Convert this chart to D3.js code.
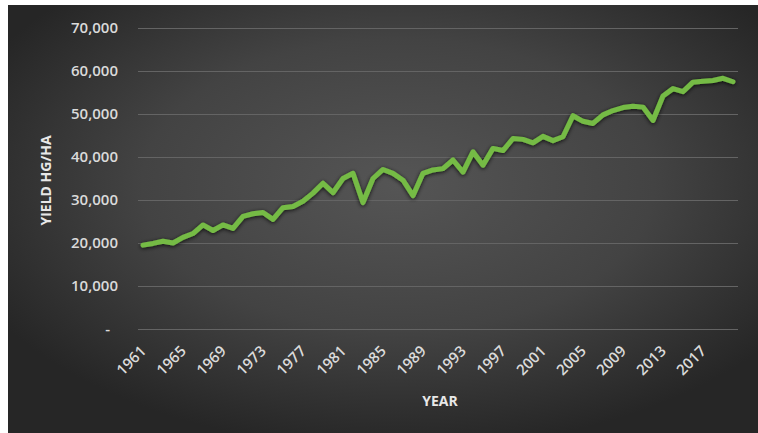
<!DOCTYPE html>
<html>
<head>
<meta charset="utf-8">
<script src="https://cdn.jsdelivr.net/npm/d3@7/dist/d3.min.js"></script>
<style>
  html, body { margin: 0; padding: 0; background: #ffffff; }
  svg { display: block; }
  text { font-family: "Open Sans", "DejaVu Sans", sans-serif; }
</style>
</head>
<body>
<svg id="chart" width="758" height="433"></svg>
<script>
// Yield (hg/ha) by year, 1961–2020
const years = d3.range(1961, 2021);
const yieldValues = [
  19500, 19900, 20400, 20000, 21300, 22200, 24200, 22900, 24200, 23400,
  26200, 26800, 27100, 25500, 28200, 28500, 29700, 31600, 33900, 31700,
  35000, 36200, 29400, 35000, 37100, 36200, 34600, 31000, 36200, 37000,
  37300, 39300, 36500, 41200, 38100, 42000, 41500, 44300, 44100, 43300,
  44800, 43800, 44700, 49600, 48300, 47800, 49800, 50800, 51500, 51800,
  51600, 48500, 54200, 55900, 55200, 57400, 57600, 57800, 58300, 57500
];
const yTicks = [0, 10000, 20000, 30000, 40000, 50000, 60000, 70000];
const xTickYears = d3.range(1961, 2021, 4);
const yTitle = "YIELD HG/HA";
const xTitle = "YEAR";

const svg = d3.select("#chart");
const W = 758, H = 433;
const frame = { left: 8, top: 5 };
const plot = { left: 138, right: 738, top: 28, bottom: 329 };

const defs = svg.append("defs");
const bg = defs.append("radialGradient")
  .attr("id", "bgGrad")
  .attr("cx", "52%").attr("cy", "42%").attr("r", "62%");
bg.append("stop").attr("offset", "0%").attr("stop-color", "#555555");
bg.append("stop").attr("offset", "55%").attr("stop-color", "#434343");
bg.append("stop").attr("offset", "100%").attr("stop-color", "#262626");

const shadow = defs.append("filter").attr("id", "lineShadow")
  .attr("x", "-10%").attr("y", "-10%").attr("width", "120%").attr("height", "130%");
shadow.append("feGaussianBlur").attr("in", "SourceAlpha").attr("stdDeviation", 2).attr("result", "b");
shadow.append("feOffset").attr("in", "b").attr("dx", 0).attr("dy", 1).attr("result", "o");
shadow.append("feComponentTransfer").attr("in", "o").attr("result", "s")
  .append("feFuncA").attr("type", "linear").attr("slope", 0.8);
const merge = shadow.append("feMerge");
merge.append("feMergeNode").attr("in", "s");
merge.append("feMergeNode").attr("in", "SourceGraphic");

// chart background
svg.append("rect")
  .attr("x", frame.left).attr("y", frame.top)
  .attr("width", W - frame.left).attr("height", H - frame.top)
  .attr("fill", "url(#bgGrad)");

const x = d3.scaleBand().domain(years).range([plot.left, plot.right]).padding(0);
const xc = d => x(d) + x.bandwidth() / 2;
const y = d3.scaleLinear().domain([0, 70000]).range([plot.bottom, plot.top]);

// horizontal gridlines
svg.append("g").selectAll("line")
  .data(yTicks)
  .join("line")
  .attr("x1", plot.left).attr("x2", plot.right)
  .attr("y1", d => Math.round(y(d)) + 0.5).attr("y2", d => Math.round(y(d)) + 0.5)
  .attr("stroke", "#646464").attr("stroke-width", 1);

// y axis labels
const yAxis = d3.axisLeft(y)
  .tickValues(yTicks)
  .tickSize(0)
  .tickPadding(20)
  .tickFormat(d => d === 0 ? "-" : d3.format(",")(d));
const gy = svg.append("g").attr("transform", `translate(${plot.left},0)`).call(yAxis);
gy.select(".domain").remove();
gy.selectAll("text")
  .attr("fill", "#dadada")
  .style("font-size", "15px")
  .style("font-weight", "600")
  .attr("dx", d => d === 0 ? "-8px" : 0);

// x axis labels
const xAxis = d3.axisBottom(x)
  .tickValues(xTickYears)
  .tickSize(0)
  .tickPadding(0);
const gx = svg.append("g").attr("transform", `translate(0,${plot.bottom})`).call(xAxis);
gx.select(".domain").remove();
gx.selectAll("text")
  .attr("fill", "#dadada")
  .style("font-size", "15px")
  .style("font-weight", "600")
  .attr("text-anchor", "end")
  .attr("dy", 0)
  .attr("y", 0)
  .attr("transform", "translate(4,23) rotate(-45)");

// axis titles
svg.append("text")
  .attr("transform", `translate(51,${(plot.top + plot.bottom) / 2 + 2}) rotate(-90)`)
  .attr("text-anchor", "middle")
  .attr("fill", "#e8e8e8")
  .style("font-size", "14px")
  .style("font-weight", "700")
  .text(yTitle);

svg.append("text")
  .attr("x", (plot.left + plot.right) / 2 + 2)
  .attr("y", 406)
  .attr("text-anchor", "middle")
  .attr("fill", "#e8e8e8")
  .style("font-size", "14px")
  .style("font-weight", "700")
  .text(xTitle);

// yield line
const line = d3.line()
  .x((d, i) => xc(years[i]))
  .y(d => y(d));
svg.append("path")
  .datum(yieldValues)
  .attr("d", line)
  .attr("fill", "none")
  .attr("stroke", "#74bb45")
  .attr("stroke-width", 5)
  .attr("stroke-linejoin", "round")
  .attr("stroke-linecap", "round")
  .attr("filter", "url(#lineShadow)");
</script>
</body>
</html>
